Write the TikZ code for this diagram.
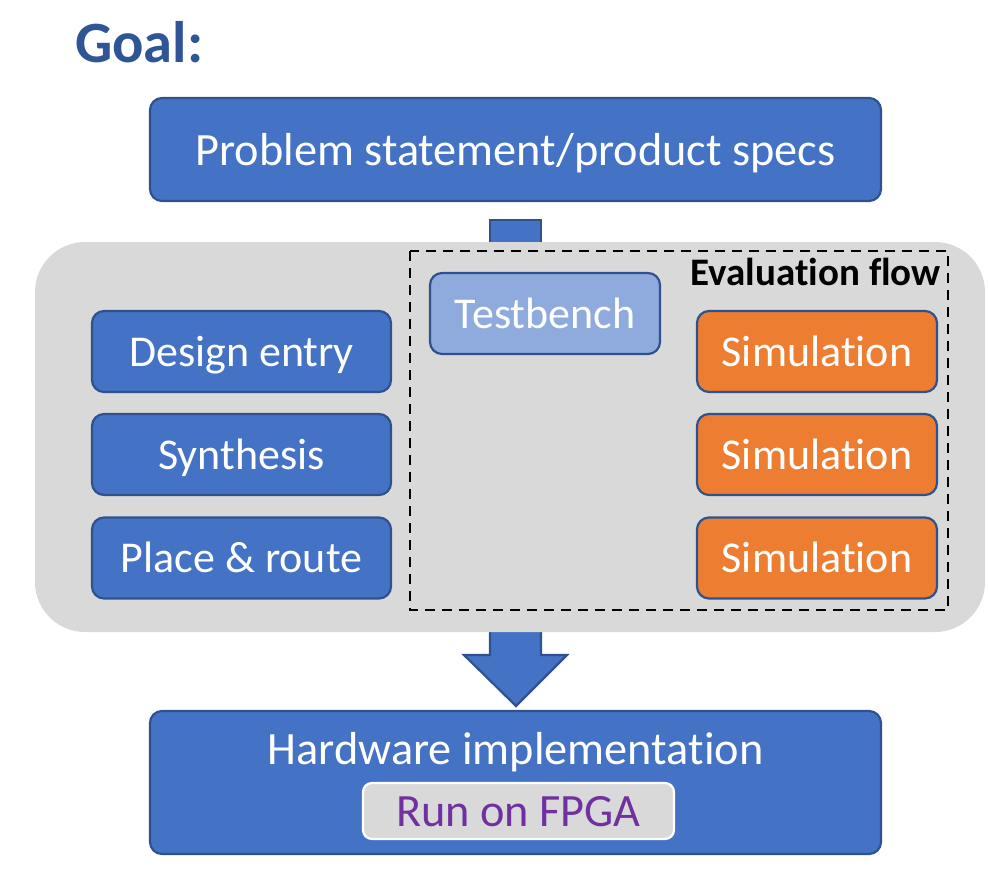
\documentclass[tikz,border=0pt]{standalone}
\usepackage{fontspec}
\setmainfont[Ligatures=NoCommon]{Carlito}
\definecolor{boxblue}{HTML}{4472C4}
\definecolor{edgeblue}{HTML}{2F528F}
\definecolor{lightblue}{HTML}{8FAADC}
\definecolor{simorange}{HTML}{ED7D31}
\definecolor{panelgray}{HTML}{D9D9D9}
\definecolor{titleblue}{HTML}{2F5597}
\definecolor{fpgapurple}{HTML}{7030A0}
\tikzset{
  blk/.style={draw=edgeblue, line width=2.2pt, rounded corners=12pt, fill=boxblue,
    text=white, inner sep=0pt, font=\fontsize{44}{50}\selectfont,
    text height=31pt, text depth=2pt},
  bigtext/.style={font=\fontsize{46.3}{52}\selectfont},
  stepbox/.style={blk, minimum width=299pt, minimum height=81pt},
  simbox/.style={blk, fill=simorange, minimum width=240pt, minimum height=81pt},
}
\begin{document}
\begin{tikzpicture}[x=1pt, y=-1pt]
\useasboundingbox (0,0) rectangle (988,875);
% connectors behind the gray panel
\draw[draw=edgeblue, line width=2.2pt, fill=boxblue] (490,260) -- (490,220) -- (541,220) -- (541,260);
\draw[draw=edgeblue, line width=2.2pt, fill=boxblue, line join=miter]
  (490,620) -- (490,655) -- (464,655) -- (516,706) -- (567,655) -- (541,655) -- (541,620);
% title
\node[anchor=base west, text=titleblue, font=\fontsize{58.5}{64}\selectfont\bfseries, inner sep=0pt] (goal) at (75,63) {Goal:};
% problem statement
\node[blk, minimum width=731pt, minimum height=103pt] (spec) at (515.5,149.5) {};
\node[text=white, bigtext, anchor=base, inner sep=0pt] (speclabel) at (515.5,165) {Problem statement/product specs};
% gray panel
\fill[panelgray, rounded corners=50pt] (35,242) rectangle (985,632);
% evaluation flow frame
\draw[black, line width=2.6pt, dash pattern=on 10pt off 7pt] (410,251) rectangle (948,610);
\node[anchor=base east, font=\fontsize{39}{44}\selectfont\bfseries, inner sep=0pt] (evalflow) at (941,285) {Evaluation flow};
% design steps
\node[stepbox] (entry) at (241.5,351.5) {Design entry};
\node[stepbox] (synth) at (241.5,454.5) {Synthesis};
\node[stepbox] (pnr) at (241.5,558) {Place \& route};
% testbench and simulations
\node[blk, fill=lightblue, minimum width=230pt, minimum height=81pt] (tb) at (545,313.5) {Testbench};
\node[simbox] (sim1) at (817,351.5) {Simulation};
\node[simbox] (sim2) at (817,454.5) {Simulation};
\node[simbox] (sim3) at (817,558) {Simulation};
% hardware implementation
\node[blk, minimum width=731pt, minimum height=143pt] (hw) at (515.5,782.5) {};
\node[text=white, bigtext, anchor=base, inner sep=0pt] (hwlabel) at (515.5,764) {Hardware implementation};
\node[draw=white, line width=2.2pt, fill=panelgray, rounded corners=9pt, minimum width=311pt, minimum height=56pt,
  text=fpgapurple, bigtext, inner sep=0pt, text height=32pt, text depth=2pt] (fpga) at (518.5,811) {Run on FPGA};
\end{tikzpicture}
\end{document}
